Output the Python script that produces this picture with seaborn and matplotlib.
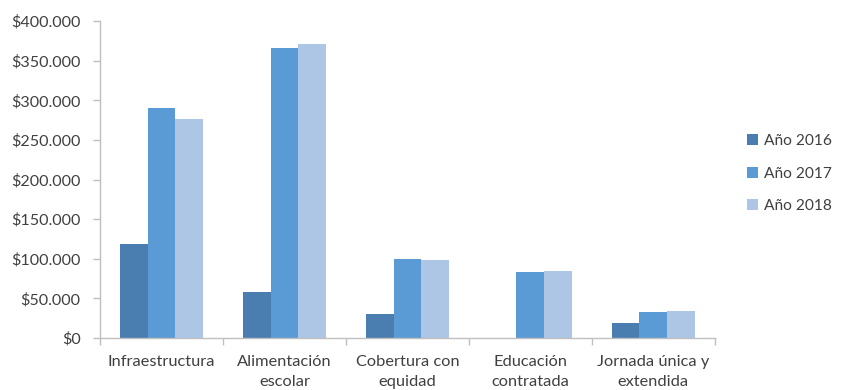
import matplotlib
matplotlib.use("Agg")
import matplotlib.pyplot as plt
from matplotlib.ticker import FuncFormatter, FixedLocator
import seaborn as sns
import pandas as pd

categories = ["Infraestructura", "Alimentación\nescolar", "Cobertura con\nequidad",
              "Educación\ncontratada", "Jornada única y\nextendida"]
years = ["Año 2016", "Año 2017", "Año 2018"]
values_2016 = [119000, 58000, 30000, 0, 18500]
values_2017 = [290000, 366000, 100000, 83000, 33000]
values_2018 = [276000, 371000, 98500, 85000, 34000]
colors = ["#4A7EB0", "#5B9BD5", "#ADC6E5"]

df = pd.DataFrame({
    "categoria": categories * 3,
    "anio": [years[0]] * 5 + [years[1]] * 5 + [years[2]] * 5,
    "valor": values_2016 + values_2017 + values_2018,
})

sns.set_theme(style="white")
plt.rcParams["font.family"] = ["Lato", "DejaVu Sans"]

fig = plt.figure(figsize=(8.41, 3.9), dpi=100)
ax = fig.add_axes([0.119, 0.133, 0.731, 0.813])

sns.barplot(data=df, x="categoria", y="valor", hue="anio", palette=colors,
            width=0.68, ax=ax, saturation=1, errorbar=None, legend=True,
            linewidth=0, edgecolor="none")

ax.set_ylim(0, 400000)
ax.set_xlim(-0.5, 4.5)
ax.set_yticks(range(0, 400001, 50000))
ax.yaxis.set_major_formatter(FuncFormatter(
    lambda v, p: "$0" if v == 0 else "$" + f"{int(v):,}".replace(",", ".")))
ax.set_xlabel("")
ax.set_ylabel("")

for s in ["top", "right"]:
    ax.spines[s].set_visible(False)
for s in ["left", "bottom"]:
    ax.spines[s].set_color("#BFBFBF")
    ax.spines[s].set_linewidth(1.0)

ax.tick_params(axis="y", which="major", left=True, length=5, width=1,
               color="#BFBFBF", labelsize=11.6, labelcolor="#404040", pad=9)
ax.tick_params(axis="x", which="major", length=0, labelsize=11.8,
               labelcolor="#404040", pad=12)
ax.xaxis.set_minor_locator(FixedLocator([-0.5, 0.5, 1.5, 2.5, 3.5, 4.5]))
ax.tick_params(axis="x", which="minor", bottom=True, length=5, width=1,
               color="#BFBFBF")
for lbl in ax.get_xticklabels():
    lbl.set_linespacing(1.6)

handles, labels = ax.get_legend_handles_labels()
ax.get_legend().remove()
fig.legend(handles, labels, loc="center left", bbox_to_anchor=(0.872, 0.555),
           frameon=False, fontsize=11.2, handlelength=0.7, handleheight=0.7,
           labelspacing=1.2, handletextpad=0.35, labelcolor="#404040")

fig.savefig("out.png", dpi=100)
